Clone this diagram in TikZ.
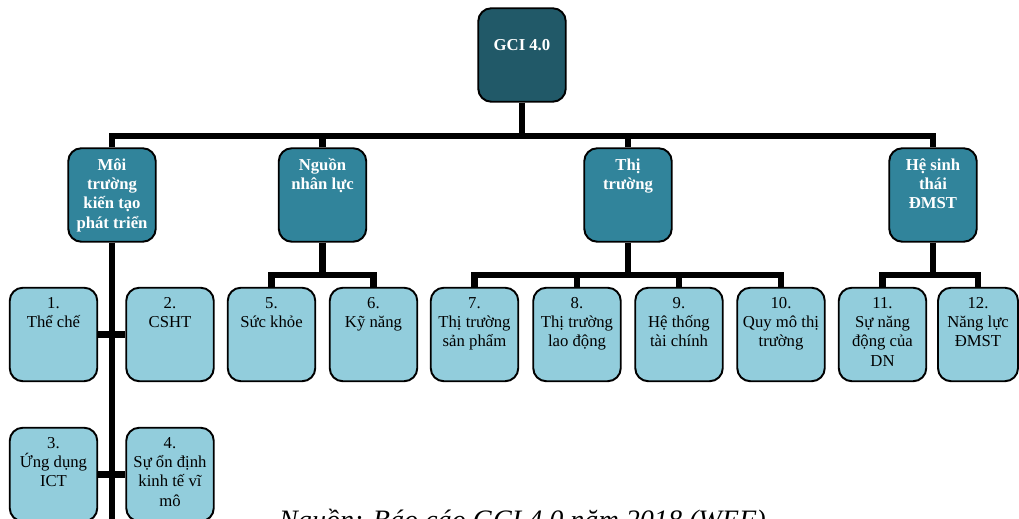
\documentclass[tikz,border=0pt]{standalone}
\usepackage{fontspec}
\setmainfont{Liberation Serif}
\usepackage{xcolor}
\usepackage{tikz}
\usetikzlibrary{positioning, calc}

\definecolor{gcidark}{HTML}{215968}
\definecolor{gcimid}{HTML}{31849B}
\definecolor{gcilight}{HTML}{92CDDC}

% text block of a box: top aligned, first baseline at #2 below the top
\newcommand{\boxtxt}[3][1.75cm]{%
  \parbox[c][1.87cm][t]{#1}{\centering\rule{0pt}{#2}#3}}

\tikzset{
  gcibox/.style={
    draw, line width=1.1pt, rounded corners=0.26cm, inner sep=0pt,
    fill=gcidark, text=white, font=\fontsize{9.5}{11}\selectfont\bfseries
  },
  pillarbox/.style={
    draw, line width=1.1pt, rounded corners=0.26cm, inner sep=0pt,
    fill=gcimid, text=white, font=\fontsize{9.5}{11}\selectfont\bfseries
  },
  itembox/.style={
    draw, line width=1.1pt, rounded corners=0.26cm, inner sep=0pt,
    fill=gcilight, text=black, font=\fontsize{9.5}{11}\selectfont
  },
  treeline/.style={line width=3.6pt, color=black},
  sourcelabel/.style={anchor=base west, font=\fontsize{16}{19}\selectfont\itshape}
}

\begin{document}
\begin{tikzpicture}[x=0.02cm, y=-0.02cm]
  \useasboundingbox (0,0) rectangle (1019,519);

  % Root
  \node[gcibox] (gci) at (522,55) {\boxtxt{0.84cm}{GCI 4.0}};

  % Pillars
  \node[pillarbox] (env) at (112,195) {\boxtxt{0.44cm}{Môi\\trường\\kiến tạo\\phát triển}};
  \node[pillarbox] (hr)  at (322.5,195) {\boxtxt{0.44cm}{Nguồn\\nhân lực}};
  \node[pillarbox] (mkt) at (628,195) {\boxtxt{0.44cm}{Thị\\trường}};
  \node[pillarbox] (eco) at (933,195) {\boxtxt{0.44cm}{Hệ sinh\\thái\\ĐMST}};

  % Pillar items
  \node[itembox] (f1)  at (53.5,334.5) {\boxtxt{0.41cm}{1.\\Thể chế}};
  \node[itembox] (f2)  at (170,334.5)  {\boxtxt{0.41cm}{2.\\CSHT}};
  \node[itembox] (f3)  at (53.5,474.5) {\boxtxt{0.41cm}{3.\\Ứng dụng\\ICT}};
  \node[itembox] (f4)  at (170,474.5)  {\boxtxt{0.41cm}{4.\\Sự ổn định\\kinh tế vĩ\\mô}};
  \node[itembox] (f5)  at (271.5,334.5) {\boxtxt{0.41cm}{5.\\Sức khỏe}};
  \node[itembox] (f6)  at (373.5,334.5) {\boxtxt{0.41cm}{6.\\Kỹ năng}};
  \node[itembox] (f7)  at (474.5,334.5) {\boxtxt{0.41cm}{7.\\Thị trường\\sản phẩm}};
  \node[itembox] (f8)  at (577,334.5)  {\boxtxt{0.41cm}{8.\\Thị trường\\lao động}};
  \node[itembox] (f9)  at (679,334.5)  {\boxtxt{0.41cm}{9.\\Hệ thống\\tài chính}};
  \node[itembox] (f10) at (781,334.5)  {\boxtxt{0.41cm}{10.\\Quy mô thị\\trường}};
  \node[itembox] (f11) at (882.5,334.5) {\boxtxt{0.41cm}{11.\\Sự năng\\động của\\DN}};
  \node[itembox] (f12) at (978,334.5)  {\boxtxt[1.6cm]{0.41cm}{12.\\Năng lực\\ĐMST}};

  % Bus points
  \coordinate (topbus) at (522,136);
  \coordinate (hrbus)  at (322.5,275);
  \coordinate (mktbus) at (628,275);
  \coordinate (ecobus) at (933,275);
  \coordinate (envend) at (112,545);

  % Root to pillars
  \draw[treeline] (gci.south) -- (topbus);
  \draw[treeline] (env.north) -- (env.north |- topbus) -- (eco.north |- topbus) -- (eco.north);
  \draw[treeline] (hr.north) -- (hr.north |- topbus);
  \draw[treeline] (mkt.north) -- (mkt.north |- topbus);

  % Pillar 1 spine
  \draw[treeline] (env.south) -- (envend);
  \draw[treeline] (f1.east) -- (f2.west);
  \draw[treeline] (f3.east) -- (f4.west);

  % Pillar 2
  \draw[treeline] (hr.south) -- (hrbus);
  \draw[treeline] (f5.north) -- (f5.north |- hrbus) -- (f6.north |- hrbus) -- (f6.north);

  % Pillar 3
  \draw[treeline] (mkt.south) -- (mktbus);
  \draw[treeline] (f7.north) -- (f7.north |- mktbus) -- (f10.north |- mktbus) -- (f10.north);
  \draw[treeline] (f8.north) -- (f8.north |- mktbus);
  \draw[treeline] (f9.north) -- (f9.north |- mktbus);

  % Pillar 4
  \draw[treeline] (eco.south) -- (ecobus);
  \draw[treeline] (f11.north) -- (f11.north |- ecobus) -- (f12.north |- ecobus) -- (f12.north);

  % Source
  \node[sourcelabel] (src) at (273,530) {Nguồn: Báo cáo GCI 4.0 năm 2018 (WEF)};
\end{tikzpicture}
\end{document}
